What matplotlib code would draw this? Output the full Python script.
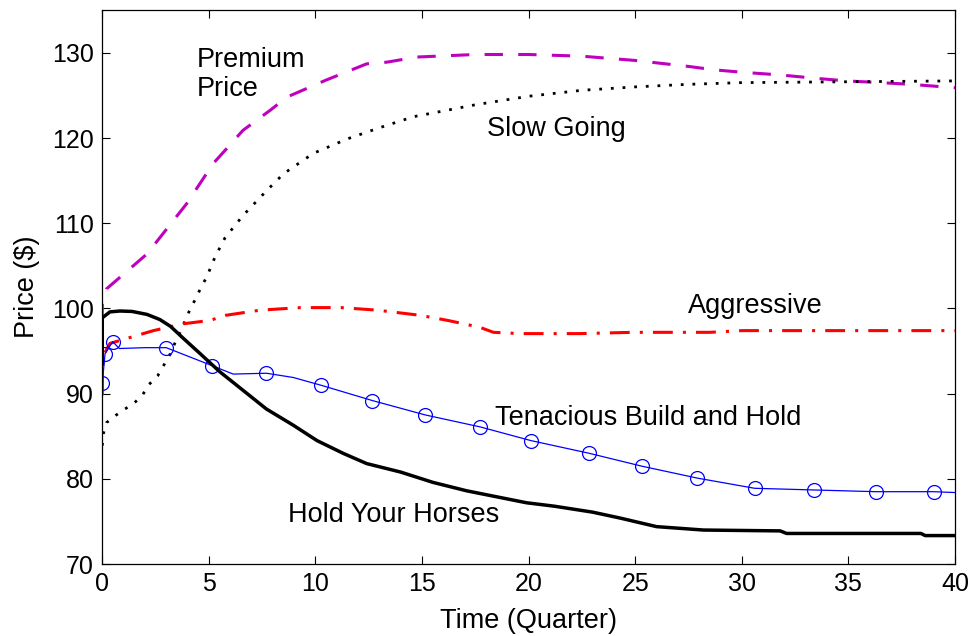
import matplotlib.pyplot as plt

plt.rcParams['font.family'] = ['Liberation Sans', 'DejaVu Sans']

# Premium Price (magenta dashed)
premium_x = [0, 0, 0.2, 2.1, 3.96, 5.2, 5.67, 6.6, 7.9, 8.66, 10.5, 12.4, 13.35, 14.75,
             17.5, 20, 22.5, 25, 27.5, 28.7, 30.1, 31.8, 33.5, 34.9, 36.5, 37.9, 40]
premium_y = [90.5, 100.6, 102.3, 106.4, 112.3, 117.0, 118.3, 120.9, 123.3, 124.8, 126.8, 128.7, 128.9, 129.5,
             129.8, 129.8, 129.6, 129.1, 128.4, 128.0, 127.7, 127.4, 127.0, 126.7, 126.5, 126.3, 125.9]

# Slow Going (black dotted)
slow_x = [0, 0.05, 0.2, 0.6, 1.0, 1.5, 1.9, 2.2, 2.6, 2.9, 3.2, 3.4, 3.65, 4.1, 4.35, 4.6, 4.9,
          5.3, 5.76, 6.6, 7.7, 8.5, 9.9, 11.5, 13.0, 14.6, 17.5, 20, 22.5, 25, 27.5, 30, 35, 40]
slow_y = [83.9, 85.3, 86.6, 87.4, 88.1, 88.9, 89.9, 91.1, 92.1, 93.4, 94.7, 95.9, 97.2, 99.8, 101.0, 102.3, 103.7,
          106.1, 108.3, 110.9, 113.8, 115.8, 118.2, 119.9, 121.2, 122.5, 123.9, 124.9, 125.6, 126.0, 126.3, 126.5, 126.6, 126.7]

# Aggressive (red dash-dot)
aggr_x = [0, 0, 0.1, 0.36, 2.4, 3.8, 5.06, 5.8, 7.4, 9.3, 11.2, 12.9, 14.9, 16.2, 17.7, 18.35,
          19.6, 22.4, 24.9, 28.5, 30, 40]
aggr_y = [89.8, 93.0, 94.7, 95.9, 97.4, 98.2, 98.6, 99.2, 99.8, 100.1, 100.1, 99.8, 99.2, 98.6, 97.8, 97.2,
          97.05, 97.05, 97.2, 97.2, 97.4, 97.4]

# Tenacious Build and Hold (blue, circles on selected points)
ten_x = [0, 0, 0.13, 0.49, 0.8, 2.0, 3.0, 5.14, 6.14, 7.7, 8.96, 10.25, 12.66, 15.16, 17.73, 20.1,
         22.85, 25.3, 27.9, 30.6, 33.4, 36.3, 39.0, 40]
ten_y = [88.3, 91.2, 94.7, 96.1, 95.3, 95.4, 95.4, 93.3, 92.3, 92.4, 91.9, 91.0, 89.2, 87.5, 86.1, 84.5,
         83.0, 81.5, 80.1, 78.9, 78.7, 78.5, 78.5, 78.4]
ten_marks = [1, 2, 3, 6, 7, 9, 11, 12, 13, 14, 15, 16, 17, 18, 19, 20, 21, 22]

# Hold Your Horses (black solid)
hold_x = [0, 0, 0.36, 0.83, 1.4, 2.1, 2.7, 3.2, 3.8, 4.59, 5.5, 6.6, 7.7, 8.96, 10.07, 11.3, 12.4,
          14.0, 15.5, 17.1, 18.7, 19.9, 21.2, 23.0, 24.3, 26.0, 28.2, 31.8, 32.1, 38.4, 38.6, 40]
hold_y = [93.5, 98.9, 99.6, 99.7, 99.65, 99.3, 98.7, 97.9, 96.5, 94.7, 92.6, 90.4, 88.2, 86.3, 84.5, 83.0, 81.8,
          80.8, 79.6, 78.6, 77.8, 77.2, 76.8, 76.1, 75.4, 74.4, 74.0, 73.9, 73.6, 73.6, 73.35, 73.35]

fig = plt.figure(figsize=(9.74, 6.36), dpi=100)
ax = fig.add_axes([0.105, 0.113, 0.8755, 0.871])

ax.plot(premium_x, premium_y, color=(0.75, 0, 0.75), lw=2.2, dashes=(6, 5))
ax.plot(slow_x, slow_y, color='black', lw=2.0, dashes=(1, 3.2))
ax.plot(aggr_x, aggr_y, color='red', lw=2.2, dashes=(6.5, 3.3, 1, 3.3))
ax.plot(ten_x, ten_y, color='blue', lw=0.9, marker='o', markersize=10, markerfacecolor='none',
        markeredgecolor='blue', markeredgewidth=0.9, markevery=ten_marks)
ax.plot(hold_x, hold_y, color='black', lw=2.5)

lbl = 19.5
ax.text(4.45, 127.4, 'Premium\nPrice', fontsize=lbl, ha='left', va='center', linespacing=1.15)
ax.text(21.3, 121.1, 'Slow Going', fontsize=lbl, ha='center', va='center')
ax.text(30.65, 100.3, 'Aggressive', fontsize=lbl, ha='center', va='center')
ax.text(25.6, 87.1, 'Tenacious Build and Hold', fontsize=lbl, ha='center', va='center')
ax.text(13.65, 75.8, 'Hold Your Horses', fontsize=lbl, ha='center', va='center')

ax.set_xlim(0, 40)
ax.set_ylim(70, 135)
ax.set_xticks(range(0, 41, 5))
ax.set_yticks(range(70, 131, 10))
ax.tick_params(direction='in', length=6, width=0.8, labelsize=18, top=True, right=True, pad=6)
for s in ax.spines.values():
    s.set_linewidth(0.9)

ax.set_xlabel('Time (Quarter)', fontsize=lbl, labelpad=8)
ax.set_ylabel('Price ($)', fontsize=lbl, labelpad=9)

fig.savefig('out.png', dpi=100)
